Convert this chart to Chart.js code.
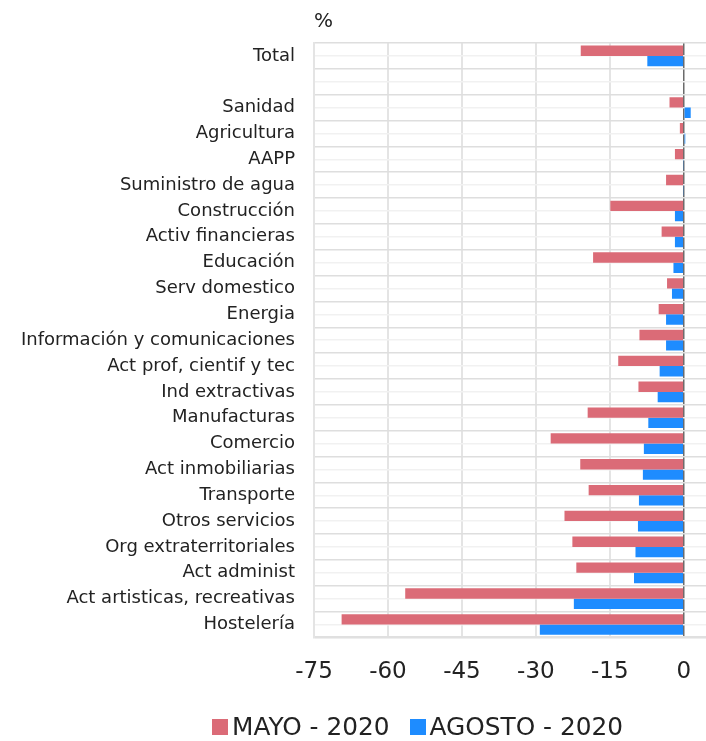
<!DOCTYPE html>
<html>
<head>
<meta charset="utf-8">
<script src="https://cdn.jsdelivr.net/npm/chart.js@4.4.1/dist/chart.umd.min.js"></script>
<style>
    body { margin: 0; background: #fff; overflow: hidden; }
    #wrap { position: relative; width: 706px; height: 741px; }
    #chart01 { display: block; }
    #legend {
        position: absolute; left: 212px; top: 712px;
        display: flex; align-items: center;
        font-family: "DejaVu Sans", sans-serif; font-size: 24.8px; color: #222;
    }
    #legend span.box { display: inline-block; width: 16px; height: 16px; margin-right: 4px; }
    #legend span.item { display: flex; align-items: center; margin-right: 20px; }
</style>
</head>
<body>
<div id="wrap">
    <canvas id="chart01" width="706" height="741"></canvas>
    <div id="legend"></div>
</div>
<script>
const sectores = ['Total', '', 'Sanidad', 'Agricultura', 'AAPP', 'Suministro de agua', 'Construcción',
    'Activ financieras', 'Educación', 'Serv domestico', 'Energia', 'Información y comunicaciones',
    'Act prof, cientif y tec', 'Ind extractivas', 'Manufacturas', 'Comercio', 'Act inmobiliarias',
    'Transporte', 'Otros servicios', 'Org extraterritoriales', 'Act administ',
    'Act artisticas, recreativas', 'Hostelería'];
const mayo = [-20.9, null, -2.9, -0.8, -1.8, -3.6, -14.9, -4.5, -18.4, -3.4, -5.1, -9.0,
    -13.3, -9.2, -19.5, -27.0, -21.0, -19.3, -24.2, -22.6, -21.8, -56.5, -69.4];
const agosto = [-7.4, null, 1.4, 0.3, -0.1, -0.1, -1.8, -1.8, -2.1, -2.4, -3.6, -3.6,
    -4.9, -5.3, -7.2, -8.1, -8.3, -9.1, -9.3, -9.8, -10.1, -22.3, -29.2];
const ticksX = [-75, -60, -45, -30, -15, 0];

const fuente = "'DejaVu Sans', sans-serif";
const ctx01 = document.getElementById('chart01');

const dtChart = {
    labels: sectores,
    datasets: [
        { label: 'MAYO - 2020', data: mayo, backgroundColor: '#db6b77' },
        { label: 'AGOSTO - 2020', data: agosto, backgroundColor: '#1e8cff' }
    ]
};

const mainChart = new Chart(ctx01, {
    type: 'bar',
    data: dtChart,
    options: {
        indexAxis: 'y',
        responsive: false,
        animation: false,
        devicePixelRatio: 1,
        layout: { padding: { top: 0, right: 0, bottom: 55, left: 0 } },
        datasets: { bar: { categoryPercentage: 0.8, barPercentage: 1 } },
        plugins: {
            legend: { display: false },
            tooltip: { enabled: false },
            title: {
                display: true,
                text: '%',
                align: 'start',
                fullSize: false,
                color: '#222',
                font: { family: fuente, size: 20, weight: 'normal' },
                padding: { top: 10, bottom: 9 }
            }
        },
        scales: {
            x: {
                min: -75,
                max: 4.5,
                ticks: {
                    stepSize: 15,
                    color: '#222',
                    padding: 0,
                    font: { family: fuente, size: 23 }
                },
                afterBuildTicks: (scale) => {
                    scale.ticks = ticksX.map(v => ({ value: v }));
                },
                // el eje llega hasta el borde derecho
                afterFit: (scale) => { scale.paddingRight = 0; },
                grid: {
                    drawTicks: true,
                    tickLength: 21,
                    tickColor: 'rgba(0,0,0,0)',
                    color: (c) => c.tick && c.tick.value === 0 ? '#6b6b6b' : '#e4e4e4',
                    lineWidth: (c) => c.tick && c.tick.value === 0 ? 1.5 : 2
                },
                border: { color: '#e0e0e0', width: 2 }
            },
            y: {
                position: 'left',
                ticks: {
                    color: '#222',
                    padding: 19,
                    font: { family: fuente, size: 18 }
                },
                grid: { drawTicks: false, color: '#dedede', lineWidth: 1.5 },
                border: { color: '#e4e4e4', width: 2 },
                afterFit: (scale) => { scale.width = 314; }
            },
            // lineas suaves entre las dos barras de cada sector
            y2: {
                type: 'category',
                position: 'left',
                offset: true,
                labels: sectores,
                ticks: { display: false },
                grid: { offset: false, drawTicks: false, color: '#f1f1f1', lineWidth: 1.5 },
                border: { display: false },
                afterFit: (scale) => { scale.width = 0; }
            }
        }
    }
});

// segunda pasada para que las etiquetas del eje x tomen la posicion final
mainChart.update();

// leyenda a partir de los datasets
const legendDiv = document.getElementById('legend');
dtChart.datasets.forEach(ds => {
    legendDiv.innerHTML += `<span class="item"><span class="box" style="background:${ds.backgroundColor}"></span>${ds.label}</span>`;
});
</script>
</body>
</html>
